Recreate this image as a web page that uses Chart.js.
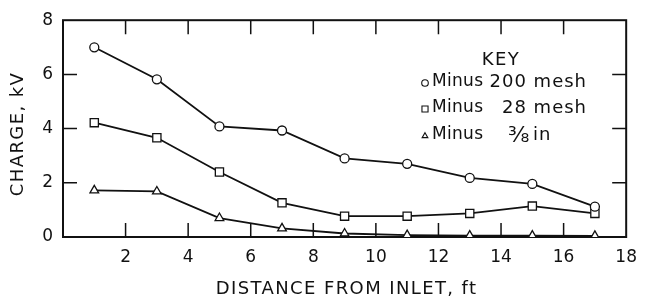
<!DOCTYPE html>
<html>
<head>
<meta charset="utf-8">
<script src="https://cdn.jsdelivr.net/npm/chart.js@4.4.0/dist/chart.umd.min.js"></script>
<style>
  body { margin: 0; background: #fff; }
  #wrap { width: 647px; height: 299px; position: relative; }
</style>
</head>
<body>
<div id="wrap"><canvas id="myChart"></canvas></div>
<script>
var distance = [1, 3, 5, 7, 9, 11, 13, 15, 17];
var mesh200 = [7.0, 5.82, 4.08, 3.93, 2.9, 2.7, 2.18, 1.96, 1.12];
var mesh28 = [4.22, 3.66, 2.4, 1.26, 0.77, 0.77, 0.87, 1.14, 0.87];
var in38 = [1.72, 1.68, 0.7, 0.32, 0.13, 0.07, 0.05, 0.05, 0.04];
var xTicks = [2, 4, 6, 8, 10, 12, 14, 16];
var yTicks = [2, 4, 6];
var keyLabels = ['Minus', 'Minus', 'Minus'];
var keySizes = ['200 mesh', '28 mesh', 'in'];
var keyStyles = ['circle', 'rect', 'triangle'];

function toPoints(ys) {
    var pts = [];
    for (let i = 0; i < distance.length; i++) {
        pts.push({ x: distance[i], y: ys[i] });
    }
    return pts;
}

// frame with inward ticks on all four sides
var framePlugin = {
    id: 'frame',
    beforeDatasetsDraw(chart) {
        var ctx = chart.ctx;
        var a = chart.chartArea;
        var sx = chart.scales.x, sy = chart.scales.y;
        ctx.save();
        ctx.strokeStyle = '#111';
        ctx.lineWidth = 2;
        ctx.strokeRect(a.left, a.top, a.right - a.left, a.bottom - a.top);
        ctx.lineWidth = 1.5;
        ctx.beginPath();
        xTicks.forEach(function (v) {
            var px = sx.getPixelForValue(v);
            ctx.moveTo(px, a.bottom); ctx.lineTo(px, a.bottom - 14);
            ctx.moveTo(px, a.top); ctx.lineTo(px, a.top + 14);
        });
        yTicks.forEach(function (v) {
            var py = sy.getPixelForValue(v);
            ctx.moveTo(a.left, py); ctx.lineTo(a.left + 14, py);
            ctx.moveTo(a.right, py); ctx.lineTo(a.right - 14, py);
        });
        ctx.stroke();
        ctx.restore();
    },
    afterDraw(chart) {
        var ctx = chart.ctx;
        var a = chart.chartArea;
        ctx.save();
        ctx.fillStyle = '#111';
        ctx.textBaseline = 'middle';
        // axis titles
        ctx.font = '18px "DejaVu Sans"';
        ctx.letterSpacing = '1.4px';
        ctx.textAlign = 'center';
        ctx.fillText('DISTANCE FROM INLET, ft', (a.left + a.right) / 2 + 2, 289);
        ctx.save();
        ctx.translate(18, 134);
        ctx.rotate(-Math.PI / 2);
        ctx.fillText('CHARGE, kV', 0, 0);
        ctx.restore();
        // key
        ctx.letterSpacing = '1.5px';
        ctx.fillText('KEY', 501, 60);
        var rows = [82, 108, 135];
        for (let i = 0; i < rows.length; i++) {
            ctx.font = '17px "DejaVu Sans"';
            ctx.letterSpacing = '0.3px';
            ctx.textAlign = 'left';
            ctx.fillText(keyLabels[i], 432, rows[i]);
            ctx.font = '18px "DejaVu Sans"';
            ctx.letterSpacing = '1px';
            if (i < 2) {
                ctx.textAlign = 'right';
                ctx.fillText(keySizes[i], 587, rows[i]);
            } else {
                ctx.font = '22px "DejaVu Sans"';
                ctx.letterSpacing = '0px';
                ctx.fillText('\u215C', 508, rows[i] + 1);
                ctx.font = '18px "DejaVu Sans"';
                ctx.letterSpacing = '1px';
                ctx.fillText(keySizes[i], 533, rows[i]);
            }
            ctx.strokeStyle = '#111';
            ctx.fillStyle = '#fff';
            ctx.lineWidth = 1.1;
            Chart.helpers.drawPoint(ctx, { pointStyle: keyStyles[i], radius: keyStyles[i] === 'rect' ? 4.3 : 3.3, borderWidth: 1.1 }, 425, rows[i] + 1);
            ctx.fillStyle = '#111';
        }
        ctx.restore();
    }
};

var ctx = document.getElementById('myChart');
var chart = new Chart(ctx, {
    type: 'scatter',
    data: {
        datasets: [
            {
                label: 'Minus 200 mesh',
                data: toPoints(mesh200),
                showLine: true,
                borderColor: '#111',
                borderWidth: 1.8,
                pointStyle: 'circle',
                pointRadius: 4.5,
                pointBorderWidth: 1.3,
                pointBackgroundColor: '#fff',
                pointBorderColor: '#111'
            },
            {
                label: 'Minus 28 mesh',
                data: toPoints(mesh28),
                showLine: true,
                borderColor: '#111',
                borderWidth: 1.8,
                pointStyle: 'rect',
                pointRadius: 5.8,
                pointBorderWidth: 1.3,
                pointBackgroundColor: '#fff',
                pointBorderColor: '#111'
            },
            {
                label: 'Minus 3/8 in',
                data: toPoints(in38),
                showLine: true,
                borderColor: '#111',
                borderWidth: 1.8,
                pointStyle: 'triangle',
                pointRadius: 5,
                pointBorderWidth: 1.3,
                pointBackgroundColor: '#fff',
                pointBorderColor: '#111'
            }
        ]
    },
    options: {
        responsive: true,
        maintainAspectRatio: false,
        animation: false,
        layout: { padding: { top: 16, right: 13, left: 0, bottom: 0 } },
        scales: {
            x: {
                type: 'linear',
                min: 0,
                max: 18,
                afterFit: function (s) { s.height = 62; },
                grid: { display: false, drawTicks: false },
                border: { display: false },
                ticks: {
                    stepSize: 2,
                    padding: 10,
                    color: '#111',
                    font: { family: 'DejaVu Sans', size: 17 },
                    callback: function (v) { return v === 0 ? '' : v; }
                }
            },
            y: {
                min: 0,
                max: 8,
                afterFit: function (s) { s.width = 63; },
                grid: { display: false, drawTicks: false },
                border: { display: false },
                ticks: {
                    stepSize: 2,
                    padding: 10,
                    color: '#111',
                    font: { family: 'DejaVu Sans', size: 17 }
                }
            }
        },
        plugins: {
            legend: { display: false },
            tooltip: { enabled: false }
        }
    },
    plugins: [framePlugin]
});
</script>
</body>
</html>
